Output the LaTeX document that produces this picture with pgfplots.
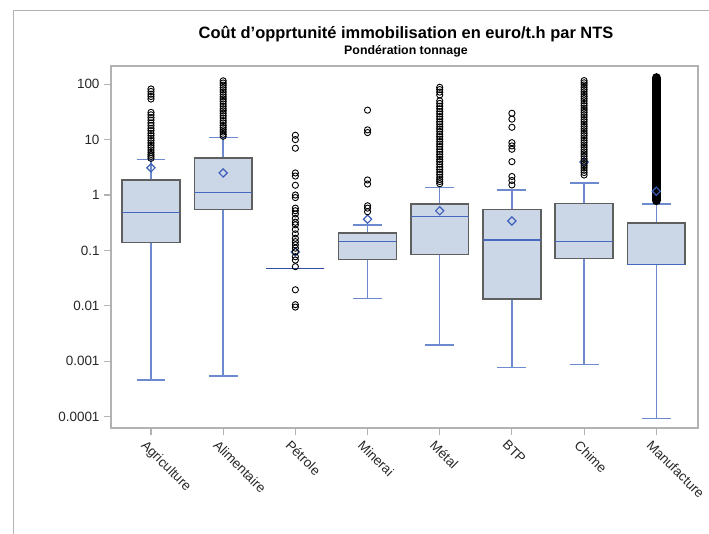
\documentclass[border=0pt]{standalone}
\usepackage{pgfplots}
\pgfplotsset{compat=1.18}
\usepackage{fontspec}
\setmainfont{Liberation Sans}

\definecolor{boxfill}{RGB}{203,214,230}
\definecolor{boxline}{RGB}{95,95,95}
\definecolor{whiskc}{RGB}{108,138,205}
\definecolor{medc}{RGB}{70,105,190}
\definecolor{meanc}{RGB}{60,95,185}
\definecolor{framec}{RGB}{178,178,178}
\definecolor{labc}{RGB}{40,40,40}

\pgfplotsset{
  whisk/.style={whiskc, line width=1.5bp},
  boxbody/.style={draw=boxline, fill=boxfill, line width=1.5bp},
  medline/.style={medc, line width=1.5bp},
  meanmark/.style={only marks, mark=square, mark size=2.9bp,
    mark options={rotate=45, draw=meanc, line width=1.2bp, fill=none}},
  outl/.style={only marks, mark=o, mark size=3.1bp,
    mark options={black, line width=0.9bp}},
}

% x, lower whisker, q1, median, q3, upper whisker, mean
\newcommand\sasbox[7]{%
  \pgfmathsetmacro\bxl{#1-0.4}\pgfmathsetmacro\bxr{#1+0.4}%
  \pgfmathsetmacro\cpl{#1-0.2}\pgfmathsetmacro\cpr{#1+0.2}%
  \edef\sasboxbody{%
    \noexpand\addplot[whisk] coordinates {(#1,#2) (#1,#3)};
    \noexpand\addplot[whisk] coordinates {(#1,#5) (#1,#6)};
    \noexpand\addplot[boxbody] coordinates {(\bxl,#3) (\bxr,#3) (\bxr,#5) (\bxl,#5)} --cycle;
    \noexpand\addplot[medline] coordinates {(\bxl,#4) (\bxr,#4)};
    \noexpand\addplot[whisk] coordinates {(\cpl,#2) (\cpr,#2)};
    \noexpand\addplot[whisk] coordinates {(\cpl,#6) (\cpr,#6)};
    \noexpand\addplot[meanmark] coordinates {(#1,#7)};
  }\sasboxbody}

\begin{document}
\begin{tikzpicture}
  \useasboundingbox (0bp,0bp) rectangle (709bp,534bp);
  % outer frame (left and top only visible)
  \draw[framec, line width=1bp] (13bp,0bp) -- (13bp,523bp) -- (709bp,523bp);

  \node[font=\bfseries\fontsize{16.5}{18}\selectfont, text=black] at (406bp,500bp) {Coût d'opprtunité immobilisation en euro/t.h par NTS};
  \node[font=\bfseries\fontsize{12.4}{14}\selectfont, text=black] at (406bp,483bp) {Pondération tonnage};

  \begin{axis}[
    at={(111bp,106bp)}, anchor=south west,
    width=587bp, height=362bp, scale only axis,
    ymode=log,
    xmin=-0.554, xmax=7.578,
    ymin=6.25e-5, ymax=213,
    xtick={0,...,7},
    xticklabels={Agriculture,Alimentaire,Pétrole,Minerai,Métal,BTP,Chime,Manufacture},
    ytick={1e-4,1e-3,1e-2,0.1,1,10,100},
    yticklabels={0.0001,0.001,0.01,0.1,1,10,100},
    yminorticks=false,
    tick pos=left,
    tick align=outside,
    major tick length=7bp,
    every tick/.style={framec, line width=1.1bp},
    axis line style={framec, line width=1.2bp},
    ticklabel style={font=\fontsize{13.5}{15}\selectfont, text=labc},
    /pgf/number format/assume math mode=true,
    yticklabel style={xshift=-1bp},
    xticklabel style={rotate=-45, anchor=north west, xshift=-3bp, yshift=-2bp},
    clip=false,
  ]
    \sasbox{0}{0.00046}{0.14}{0.48}{1.85}{4.35}{3.1}
    \sasbox{1}{0.00054}{0.545}{1.1}{4.7}{11}{2.5}
    \sasbox{2}{0.047}{0.047}{0.047}{0.047}{0.047}{0.094}
    \sasbox{3}{0.0137}{0.068}{0.144}{0.207}{0.29}{0.366}
    \sasbox{4}{0.00197}{0.085}{0.41}{0.69}{1.38}{0.52}
    \sasbox{5}{0.00078}{0.0133}{0.155}{0.545}{1.24}{0.34}
    \sasbox{6}{0.00088}{0.072}{0.144}{0.71}{1.65}{3.95}
    \sasbox{7}{0.0000935}{0.0555}{0.0555}{0.31}{0.69}{1.17}

    % Pétrole collapsed box
    \addplot[color={rgb,255:red,45;green,78;blue,160}, line width=1.7bp] coordinates {(1.6,0.047) (2.4,0.047)};

    % outliers
    \addplot[outl] coordinates {
      (0,82) (0,74) (0,66) (0,60) (0,54)
      (0,31) (0,28) (0,25) (0,22.5) (0,20) (0,18) (0,16) (0,14.5) (0,13)
      (0,11.8) (0,10.6) (0,9.6) (0,8.7) (0,7.9) (0,7.2) (0,6.5) (0,5.9)
      (0,5.4) (0,5.0) (0,4.6)
    };
    \addplot[outl] coordinates {
      (1,115) (1,105) (1,96) (1,87) (1,79) (1,72) (1,65) (1,59) (1,54)
      (1,49) (1,44) (1,40) (1,36) (1,33) (1,30) (1,27) (1,24.5) (1,22)
      (1,20) (1,18) (1,16.5) (1,15) (1,13.7) (1,12.5) (1,11.5)
    };
    \addplot[outl] coordinates {
      (2,12) (2,10) (2,7) (2,2.5) (2,2.2) (2,1.5) (2,1.0) (2,0.9)
      (2,0.58) (2,0.52) (2,0.456) (2,0.38) (2,0.323) (2,0.29) (2,0.24)
      (2,0.199) (2,0.166) (2,0.144) (2,0.126) (2,0.11) (2,0.095)
      (2,0.077) (2,0.067) (2,0.051) (2,0.0195) (2,0.0105) (2,0.0095)
    };
    \addplot[outl] coordinates {
      (3,34) (3,15) (3,13.4) (3,1.87) (3,1.58) (3,0.64) (3,0.58) (3,0.5)
    };
    \addplot[outl] coordinates {
      (4,88) (4,80) (4,72) (4,64) (4,50) (4,45) (4,40) (4,36) (4,32)
      (4,29) (4,26) (4,23.5) (4,21) (4,19) (4,17) (4,15.5) (4,14) (4,12.5)
      (4,11.3) (4,10.2) (4,9.2) (4,8.3) (4,7.5) (4,6.7) (4,6) (4,5.4)
      (4,4.9) (4,4.4) (4,4) (4,3.6) (4,3.2) (4,2.9) (4,2.6) (4,2.35)
      (4,2.1) (4,1.9) (4,1.75) (4,1.6)
    };
    \addplot[outl] coordinates {
      (5,29.9) (5,23.4) (5,16.7) (5,8.8) (5,7.7) (5,6.7) (5,4.0)
      (5,2.16) (5,1.83) (5,1.52)
    };
    \addplot[outl] coordinates {
      (6,116) (6,106) (6,97) (6,88) (6,80) (6,73) (6,66) (6,60) (6,55)
      (6,50) (6,45) (6,41) (6,37) (6,34) (6,31) (6,28) (6,25.5) (6,23)
      (6,21) (6,19) (6,17.3) (6,15.7) (6,14.3) (6,13) (6,11.8) (6,10.7)
      (6,9.7) (6,8.8) (6,8) (6,7.3) (6,6.6) (6,6) (6,5.5) (6,5) (6,4.5)
      (6,4.1) (6,3.7) (6,3.4) (6,3.1) (6,2.8) (6,2.55) (6,2.3)
    };
    % Manufacture: outliers so dense they form a solid column
    \addplot[black, line width=9.5bp, line cap=round] coordinates {(7,0.8) (7,130)};
  \end{axis}
\end{tikzpicture}
\end{document}
